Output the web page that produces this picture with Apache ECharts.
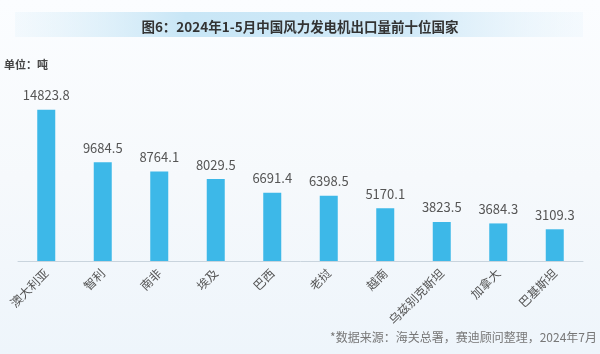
<!DOCTYPE html>
<html><head><meta charset="utf-8">
<script src="https://cdn.jsdelivr.net/npm/echarts@6/dist/echarts.min.js"></script>
<style>html,body{margin:0;padding:0;background:#f4f8fc;}#c{width:600px;height:354px;}</style>
</head><body><div id="c"></div>
<script>
const categories = ['澳大利亚','智利','南非','埃及','巴西','老挝','越南','乌兹别克斯坦','加拿大','巴基斯坦'];
const values = [14823.8, 9684.5, 8764.1, 8029.5, 6691.4, 6398.5, 5170.1, 3823.5, 3684.3, 3109.3];
const titleText = '图6：2024年1-5月中国风力发电机出口量前十位国家';
const unitText = '单位：吨';
const sourceText = '*数据来源：海关总署，赛迪顾问整理，2024年7月';

const chart = echarts.init(document.getElementById('c'));
const font = '"Noto Sans CJK SC", "Noto Sans", sans-serif';
chart.setOption({
  backgroundColor: {
    type: 'linear', x: 0, y: 0, x2: 0, y2: 1,
    colorStops: [{offset: 0, color: '#fbfdff'}, {offset: 0.5, color: '#f6f9fc'}, {offset: 1, color: '#eef5fb'}]
  },
  graphic: [
    {
      type: 'rect', left: 15, top: 12, shape: {width: 568, height: 25}, z: 0,
      style: {
        fill: {
          type: 'linear', x: 0, y: 0, x2: 1, y2: 0,
          colorStops: [
            {offset: 0, color: 'rgba(214,236,248,0.2)'},
            {offset: 0.3, color: 'rgba(200,230,246,1)'},
            {offset: 0.7, color: 'rgba(210,234,248,1)'},
            {offset: 1, color: 'rgba(230,243,251,0.3)'}
          ]
        }
      }
    },
    {
      type: 'text', left: 4, top: 59,
      style: {text: unitText, font: 'bold 11px ' + font, fill: '#444'}
    },
    {
      type: 'text', right: 3, top: 331,
      style: {text: sourceText, font: '12px ' + font, fill: '#777'}
    }
  ],
  title: {
    text: titleText, left: 'center', top: 15,
    textStyle: {fontFamily: font, fontSize: 13.5, fontWeight: 'bold', color: '#333'}
  },
  grid: {left: 18, right: 17, top: 108, bottom: 93, containLabel: false},
  xAxis: {
    type: 'category', data: categories,
    axisLine: {lineStyle: {color: '#c9d4dd'}},
    axisTick: {show: false},
    axisLabel: {rotate: 45, interval: 0, margin: 10, color: '#555', fontSize: 12, fontFamily: font}
  },
  yAxis: {
    type: 'value', min: 0, max: 15000, show: false
  },
  series: [{
    type: 'bar', data: values, barWidth: 18,
    itemStyle: {color: '#3db8e8'},
    label: {show: true, position: 'top', distance: 8, color: '#555', fontSize: 13, fontFamily: font}
  }]
});
</script></body></html>
